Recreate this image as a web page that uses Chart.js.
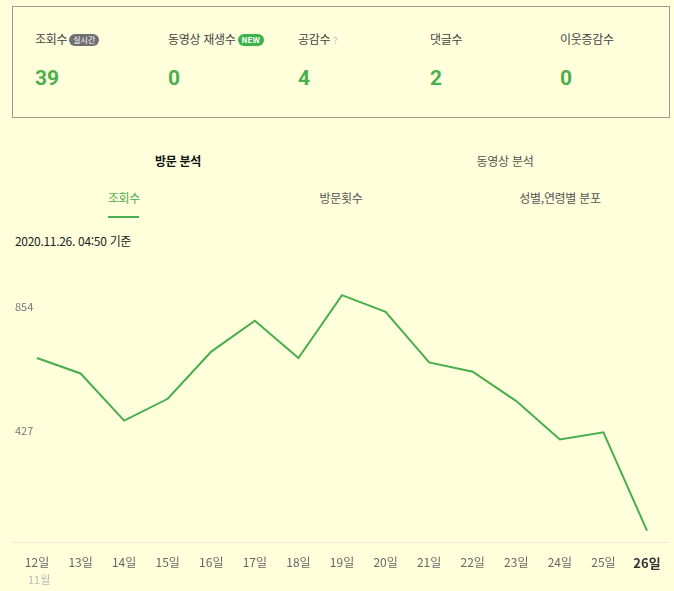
<!DOCTYPE html>
<html lang="ko">
<head>
<meta charset="utf-8">
<script src="https://cdn.jsdelivr.net/npm/chart.js@4"></script>
<style>
  html, body { margin: 0; padding: 0; }
  body {
    width: 674px; height: 591px; position: relative; overflow: hidden;
    background: #ffffdc;
    font-family: "Noto Sans CJK KR", "Noto Sans", sans-serif;
    color: #333;
  }
  .abs { position: absolute; white-space: nowrap; line-height: 1; }
  .box { position: absolute; left: 12px; top: 6px; width: 656px; height: 110px; border: 1px solid #9a9a90; }
  .lbl { font-size: 12px; color: #444; letter-spacing: -0.3px; }
  .num { font-family: "Liberation Sans Narrow", "Roboto", sans-serif; font-weight: bold; font-size: 21px; color: #4bae4f; }
  .badge { display: inline-block; font-size: 8px; color: #fff; border-radius: 7px; padding: 2px 4px; vertical-align: 1px; margin-left: 2px; letter-spacing: 0; }
  .tab { font-size: 12px; color: #555; transform: translateX(-50%); letter-spacing: -0.3px; }
  #chart { position: absolute; left: 0; top: 270px; }
</style>
</head>
<body>
<div class="box"></div>

<div class="abs lbl" style="left:35px;top:33px">조회수<span class="badge" style="background:#707070">실시간</span></div>
<div class="abs lbl" style="left:168px;top:33px">동영상 재생수<span class="badge" style="background:#3cb449;font-weight:bold">NEW</span></div>
<div class="abs lbl" style="left:298px;top:33px">공감수 <span style="color:#bbb;font-size:9px">?</span></div>
<div class="abs lbl" style="left:430px;top:33px">댓글수</div>
<div class="abs lbl" style="left:560px;top:33px">이웃증감수</div>

<div class="abs num" style="left:35px;top:68px">39</div>
<div class="abs num" style="left:168px;top:68px">0</div>
<div class="abs num" style="left:298px;top:68px">4</div>
<div class="abs num" style="left:430px;top:68px">2</div>
<div class="abs num" style="left:560px;top:68px">0</div>

<div class="abs tab" style="left:178px;top:155px;color:#111;font-weight:bold">방문 분석</div>
<div class="abs tab" style="left:505px;top:155px">동영상 분석</div>

<div class="abs tab" style="left:124px;top:192px;color:#4bae4f">조회수</div>
<div style="position:absolute;left:108px;top:216px;width:31px;height:2px;background:#4bae4f"></div>
<div class="abs tab" style="left:341px;top:192px">방문횟수</div>
<div class="abs tab" style="left:560px;top:192px">성별,연령별 분포</div>

<div class="abs" style="left:15px;top:235px;font-size:12px;color:#222;letter-spacing:-0.3px">2020.11.26. 04:50 기준</div>

<canvas id="chart" width="674" height="321"></canvas>
<div class="abs" style="left:28px;top:574px;font-size:11px;color:#bbb">11월</div>

<script>
const days = ['12일', '13일', '14일', '15일', '16일', '17일', '18일', '19일', '20일', '21일', '22일', '23일', '24일', '25일', '26일'];
const views = [678, 625, 463, 538, 700, 806, 678, 894, 837, 663, 631, 530, 398, 423, 85];
const yTicks = [427, 854];
const yMin = 46;
const yMax = 946;

// axis line runs wider than the plot area
const baseLine = {
  id: 'baseLine',
  beforeDatasetsDraw(chart) {
    const ctx = chart.ctx;
    const y = chart.chartArea.bottom + 0.5;
    ctx.save();
    ctx.strokeStyle = '#ecebd0';
    ctx.lineWidth = 1;
    ctx.beginPath();
    ctx.moveTo(12, y);
    ctx.lineTo(670, y);
    ctx.stroke();
    ctx.restore();
  }
};

new Chart(document.getElementById('chart'), {
  type: 'line',
  data: {
    labels: days,
    datasets: [{
      data: views,
      borderColor: '#47ad4d',
      borderWidth: 2,
      pointRadius: 0,
      tension: 0,
      fill: false
    }]
  },
  options: {
    responsive: false,
    animation: false,
    devicePixelRatio: 1,
    layout: { padding: { left: 15, right: 27, top: 10, bottom: 0 } },
    plugins: { legend: { display: false }, tooltip: { enabled: false } },
    scales: {
      x: {
        offset: false,
        grid: { display: false, drawTicks: false },
        border: { display: false },
        afterFit: s => { s.height = 49; },
        ticks: {
          padding: 13,
          maxRotation: 0,
          autoSkip: false,
          color: ctx => ctx.index === days.length - 1 ? '#333' : '#666',
          font: ctx => ctx.index === days.length - 1
            ? { family: '"Noto Sans CJK KR"', size: 13, weight: 'bold' }
            : { family: '"Noto Sans CJK KR"', size: 12 }
        }
      },
      y: {
        min: yMin,
        max: yMax,
        grid: { display: false, drawTicks: false },
        border: { display: false },
        afterFit: s => { s.width = 22; },
        afterBuildTicks: s => { s.ticks = yTicks.map(v => ({ value: v })); },
        ticks: {
          crossAlign: 'far',
          color: '#777',
          font: { family: '"Noto Sans CJK KR"', size: 11 }
        }
      }
    }
  },
  plugins: [baseLine]
});
</script>
</body>
</html>
